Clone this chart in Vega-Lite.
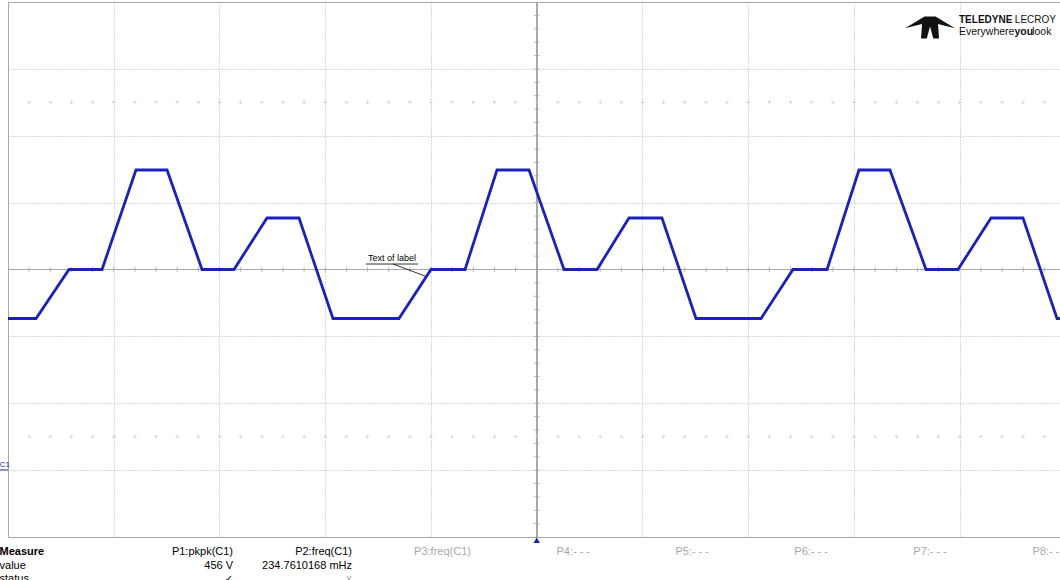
{
  "$schema": "https://vega.github.io/schema/vega-lite/v6.json",
  "width": 1052,
  "height": 535,
  "autosize": {"type": "none"},
  "padding": {"left": 8, "top": 2, "right": 0, "bottom": 43},
  "background": "white",
  "config": {
    "view": {"stroke": "#a8a8a8", "strokeWidth": 1},
    "font": "Liberation Sans",
    "axis": {"labels": false, "ticks": false, "domain": false, "title": null, "gridColor": "#b4b4b4", "gridDash": [1, 2], "gridWidth": 1}
  },
  "datasets": {
    "wave": [
      {"t": 0, "v": -0.733}, {"t": 0.265, "v": -0.733}, {"t": 0.577, "v": 0}, {"t": 0.889, "v": 0},
      {"t": 1.21, "v": 1.488}, {"t": 1.504, "v": 1.488}, {"t": 1.835, "v": 0}, {"t": 2.137, "v": 0},
      {"t": 2.449, "v": 0.77}, {"t": 2.752, "v": 0.77}, {"t": 3.073, "v": -0.733}, {"t": 3.697, "v": -0.733},
      {"t": 4.0, "v": 0}, {"t": 4.322, "v": 0}, {"t": 4.624, "v": 1.488}, {"t": 4.927, "v": 1.488},
      {"t": 5.258, "v": 0}, {"t": 5.57, "v": 0}, {"t": 5.872, "v": 0.77}, {"t": 6.184, "v": 0.77},
      {"t": 6.506, "v": -0.733}, {"t": 7.121, "v": -0.733}, {"t": 7.423, "v": 0}, {"t": 7.745, "v": 0},
      {"t": 8.047, "v": 1.488}, {"t": 8.34, "v": 1.488}, {"t": 8.681, "v": 0}, {"t": 8.983, "v": 0},
      {"t": 9.296, "v": 0.77}, {"t": 9.598, "v": 0.77}, {"t": 9.92, "v": -0.733}, {"t": 9.967, "v": -0.733}
    ],
    "subx": [
      {"p": 0.2}, {"p": 0.4}, {"p": 0.6}, {"p": 0.8}, {"p": 1.0}, {"p": 1.2}, {"p": 1.4}, {"p": 1.6}, {"p": 1.8}, {"p": 2.0},
      {"p": 2.2}, {"p": 2.4}, {"p": 2.6}, {"p": 2.8}, {"p": 3.0}, {"p": 3.2}, {"p": 3.4}, {"p": 3.6}, {"p": 3.8}, {"p": 4.0},
      {"p": 4.2}, {"p": 4.4}, {"p": 4.6}, {"p": 4.8}, {"p": 5.0}, {"p": 5.2}, {"p": 5.4}, {"p": 5.6}, {"p": 5.8}, {"p": 6.0},
      {"p": 6.2}, {"p": 6.4}, {"p": 6.6}, {"p": 6.8}, {"p": 7.0}, {"p": 7.2}, {"p": 7.4}, {"p": 7.6}, {"p": 7.8}, {"p": 8.0},
      {"p": 8.2}, {"p": 8.4}, {"p": 8.6}, {"p": 8.8}, {"p": 9.0}, {"p": 9.2}, {"p": 9.4}, {"p": 9.6}, {"p": 9.8}
    ],
    "suby": [
      {"p": -3.8}, {"p": -3.6}, {"p": -3.4}, {"p": -3.2}, {"p": -3.0}, {"p": -2.8}, {"p": -2.6}, {"p": -2.4}, {"p": -2.2}, {"p": -2.0},
      {"p": -1.8}, {"p": -1.6}, {"p": -1.4}, {"p": -1.2}, {"p": -1.0}, {"p": -0.8}, {"p": -0.6}, {"p": -0.4}, {"p": -0.2},
      {"p": 0.2}, {"p": 0.4}, {"p": 0.6}, {"p": 0.8}, {"p": 1.0}, {"p": 1.2}, {"p": 1.4}, {"p": 1.6}, {"p": 1.8}, {"p": 2.0},
      {"p": 2.2}, {"p": 2.4}, {"p": 2.6}, {"p": 2.8}, {"p": 3.0}, {"p": 3.2}, {"p": 3.4}, {"p": 3.6}, {"p": 3.8}
    ],
    "table": [
      {"x": 2.128, "y": -4.224, "t": "P1:pkpk(C1)", "state": "on"},
      {"x": 2.128, "y": -4.434, "t": "456 V", "state": "on"},
      {"x": 3.253, "y": -4.224, "t": "P2:freq(C1)", "state": "on"},
      {"x": 3.253, "y": -4.434, "t": "234.7610168 mHz", "state": "on"},
      {"x": 4.378, "y": -4.224, "t": "P3:freq(C1)", "state": "off"},
      {"x": 5.504, "y": -4.224, "t": "P4:- - -", "state": "off"},
      {"x": 6.629, "y": -4.224, "t": "P5:- - -", "state": "off"},
      {"x": 7.754, "y": -4.224, "t": "P6:- - -", "state": "off"},
      {"x": 8.879, "y": -4.224, "t": "P7:- - -", "state": "off"},
      {"x": 10.005, "y": -4.224, "t": "P8:- - -", "state": "off"}
    ],
    "rowlabels": [
      {"x": -0.08, "y": -4.434, "t": "value"},
      {"x": -0.08, "y": -4.63, "t": "status"}
    ],
    "slogan": [
      {"x": 8.993, "t": "Everywhere"},
      {"x": 9.685, "t": "look"}
    ]
  },
  "data": {"name": "wave"},
  "encoding": {
    "x": {"type": "quantitative", "scale": {"domain": [0, 9.948], "nice": false, "zero": false},
          "axis": {"values": [1, 2, 3, 4, 6, 7, 8, 9], "grid": true}},
    "y": {"type": "quantitative", "scale": {"domain": [-4, 4], "nice": false, "zero": false},
          "axis": {"values": [-3, -2, -1, 1, 2, 3], "grid": true}}
  },
  "layer": [
    {"mark": {"type": "rule", "color": "#a8a8a8", "strokeWidth": 1}, "encoding": {"y": {"datum": 0}, "x": null}},
    {"mark": {"type": "rule", "color": "#a8a8a8", "strokeWidth": 1}, "encoding": {"x": {"datum": 5}, "y": null}},
    {"data": {"name": "subx"}, "mark": {"type": "point", "shape": "M0,-1L0,1", "size": 30, "stroke": "#a0a0a0", "strokeWidth": 1, "filled": false},
     "encoding": {"x": {"field": "p", "type": "quantitative"}, "y": {"datum": 0}}},
    {"data": {"name": "suby"}, "mark": {"type": "point", "shape": "M-1,0L1,0", "size": 30, "stroke": "#a0a0a0", "strokeWidth": 1, "filled": false},
     "encoding": {"y": {"field": "p", "type": "quantitative"}, "x": {"datum": 5}}},
    {"data": {"name": "subx"}, "mark": {"type": "point", "shape": "M0,-1L0,1M-1,0L1,0", "size": 12, "stroke": "#c4c4c4", "strokeWidth": 1, "filled": false},
     "encoding": {"x": {"field": "p", "type": "quantitative"}, "y": {"datum": 2.5}}},
    {"data": {"name": "subx"}, "mark": {"type": "point", "shape": "M0,-1L0,1M-1,0L1,0", "size": 12, "stroke": "#c4c4c4", "strokeWidth": 1, "filled": false},
     "encoding": {"x": {"field": "p", "type": "quantitative"}, "y": {"datum": -2.5}}},
    {"mark": {"type": "line", "color": "#1c22b8", "strokeWidth": 2.8, "clip": true},
     "encoding": {"x": {"field": "t", "type": "quantitative"}, "y": {"field": "v", "type": "quantitative"}}},
    {"data": {"values": [{"x": 3.631, "y": 0.172, "t": "Text of label"}]},
     "mark": {"type": "text", "fontSize": 9, "color": "#000", "align": "center", "baseline": "middle"},
     "encoding": {"x": {"field": "x", "type": "quantitative"}, "y": {"field": "y", "type": "quantitative"}, "text": {"field": "t"}}},
    {"data": {"values": [{"x": 3.385, "x2": 3.877, "y": 0.082}]},
     "mark": {"type": "rule", "color": "#000", "strokeWidth": 0.8},
     "encoding": {"x": {"field": "x", "type": "quantitative"}, "x2": {"field": "x2"}, "y": {"field": "y", "type": "quantitative"}}},
    {"data": {"values": [{"x": 3.641, "y": 0.082, "x2": 3.943, "y2": -0.097}]},
     "mark": {"type": "rule", "color": "#000", "strokeWidth": 0.8},
     "encoding": {"x": {"field": "x", "type": "quantitative"}, "x2": {"field": "x2"}, "y": {"field": "y", "type": "quantitative"}, "y2": {"field": "y2"}}},
    {"data": {"values": [{"x": -0.078, "y": -2.93, "t": "C1"}]},
     "mark": {"type": "text", "fontSize": 8, "color": "#1c22b8", "align": "left", "baseline": "middle", "clip": false},
     "encoding": {"x": {"field": "x", "type": "quantitative"}, "y": {"field": "y", "type": "quantitative"}, "text": {"field": "t"}}},
    {"data": {"values": [{"x": -0.078, "x2": 0, "y": -2.998}]},
     "mark": {"type": "rule", "color": "#1c22b8", "strokeWidth": 1},
     "encoding": {"x": {"field": "x", "type": "quantitative"}, "x2": {"field": "x2"}, "y": {"field": "y", "type": "quantitative"}}},
    {"data": {"values": [{"x": 5.0, "y": -4.05}]},
     "mark": {"type": "point", "shape": "triangle-up", "size": 40, "filled": true, "color": "#1c22a0", "opacity": 1},
     "encoding": {"x": {"field": "x", "type": "quantitative"}, "y": {"field": "y", "type": "quantitative"}}},
    {"data": {"values": [{"x": -0.08, "y": -4.224, "t": "Measure"}]},
     "mark": {"type": "text", "fontSize": 11, "fontWeight": "bold", "color": "#000", "align": "left", "baseline": "middle"},
     "encoding": {"x": {"field": "x", "type": "quantitative"}, "y": {"field": "y", "type": "quantitative"}, "text": {"field": "t"}}},
    {"data": {"name": "rowlabels"},
     "mark": {"type": "text", "fontSize": 11, "color": "#000", "align": "left", "baseline": "middle"},
     "encoding": {"x": {"field": "x", "type": "quantitative"}, "y": {"field": "y", "type": "quantitative"}, "text": {"field": "t"}}},
    {"data": {"name": "table"},
     "mark": {"type": "text", "fontSize": 11, "align": "right", "baseline": "middle"},
     "encoding": {"x": {"field": "x", "type": "quantitative"}, "y": {"field": "y", "type": "quantitative"}, "text": {"field": "t"},
                  "color": {"field": "state", "type": "nominal", "scale": {"domain": ["on", "off"], "range": ["#000000", "#a8a8a8"]}, "legend": null}}},
    {"data": {"values": [{"x": 2.128, "y": -4.63, "t": "✓", "state": "ok"}, {"x": 3.253, "y": -4.63, "t": "ɤ", "state": "warn"}]},
     "mark": {"type": "text", "fontSize": 10, "align": "right", "baseline": "middle", "font": "DejaVu Sans"},
     "encoding": {"x": {"field": "x", "type": "quantitative"}, "y": {"field": "y", "type": "quantitative"}, "text": {"field": "t"},
                  "color": {"field": "state", "type": "nominal", "scale": {"domain": ["ok", "warn"], "range": ["#d020c8", "#3030c0"]}, "legend": null}}},
    {"data": {"values": [{"x": 8.719, "y": 3.626}]},
     "mark": {"type": "point", "shape": "M-1,0.05L-0.22,-0.42L0.22,-0.42L1,0.05L0.32,-0.12L0.36,0.46L0.13,0.46L0,-0.02L-0.13,0.46L-0.36,0.46L-0.32,-0.12Z", "size": 2500, "filled": true, "color": "#111111", "opacity": 1},
     "encoding": {"x": {"field": "x", "type": "quantitative"}, "y": {"field": "y", "type": "quantitative"}}},
    {"data": {"values": [{"x": 8.993, "y": 3.731, "t": "TELEDYNE"}]},
     "mark": {"type": "text", "fontSize": 10, "fontWeight": "bold", "color": "#111", "align": "left", "baseline": "middle"},
     "encoding": {"x": {"field": "x", "type": "quantitative"}, "y": {"field": "y", "type": "quantitative"}, "text": {"field": "t"}}},
    {"data": {"values": [{"x": 9.91, "y": 3.731, "t": "LECROY"}]},
     "mark": {"type": "text", "fontSize": 10, "color": "#111", "align": "right", "baseline": "middle"},
     "encoding": {"x": {"field": "x", "type": "quantitative"}, "y": {"field": "y", "type": "quantitative"}, "text": {"field": "t"}}},
    {"data": {"name": "slogan"},
     "mark": {"type": "text", "fontSize": 10.5, "color": "#111", "align": "left", "baseline": "middle"},
     "encoding": {"x": {"field": "x", "type": "quantitative"}, "y": {"datum": 3.551}, "text": {"field": "t"}}},
    {"data": {"values": [{"x": 9.517, "t": "you"}]},
     "mark": {"type": "text", "fontSize": 10.5, "fontWeight": "bold", "color": "#111", "align": "left", "baseline": "middle"},
     "encoding": {"x": {"field": "x", "type": "quantitative"}, "y": {"datum": 3.551}, "text": {"field": "t"}}}
  ]
}
